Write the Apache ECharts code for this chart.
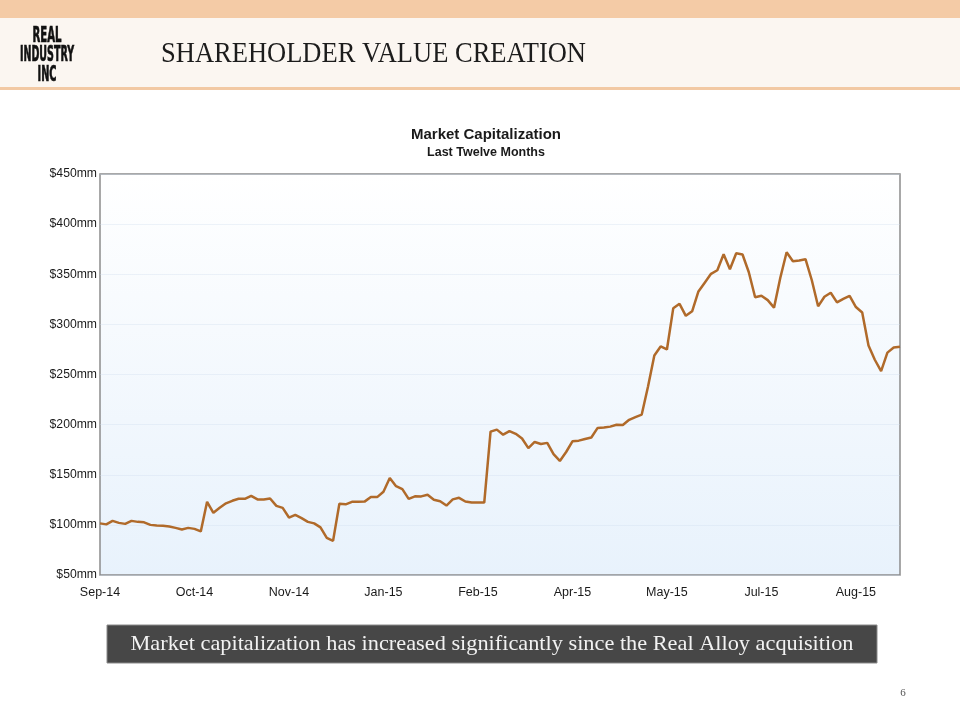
<!DOCTYPE html>
<html><head><meta charset="utf-8">
<script src="https://cdn.jsdelivr.net/npm/echarts/dist/echarts.min.js"></script>
<style>html,body{margin:0;padding:0;background:#fff}#c{width:960px;height:720px}</style>
</head><body><div id="c"></div>
<script>
const tickLabels = ['Sep-14','Oct-14','Nov-14','Jan-15','Feb-15','Apr-15','May-15','Jul-15','Aug-15'];
const labelEvery = 15;
const yMin = 50, yMax = 450, yStep = 50;
const marketCap = [
  101.5, 100.5, 104, 102, 101, 104, 103, 102.5, 100, 99.3,
  99.1, 98.4, 97, 95.4, 97, 96, 93.5, 123, 112, 117,
  121.5, 124, 126, 126, 129, 125.4, 125.3, 126.3, 118.9, 116.9,
  107.3, 110, 106.7, 103, 101.5, 97.5, 87, 84, 121, 120.5,
  123, 123, 123.2, 127.7, 127.7, 133, 146.7, 138.6, 135.6, 126,
  128.5, 128.4, 130, 125, 123.6, 119.3, 125.4, 127, 123.3, 122.3,
  122.3, 122.3, 193, 195, 190, 193.6, 190.8, 186.2, 176.5, 182.7,
  180.7, 181.8, 170.5, 163.8, 172.7, 183.4, 184, 185.7, 187.2, 196.7,
  197.1, 198, 199.8, 199.6, 204.8, 207.5, 210, 238, 269, 278,
  275, 316, 320.5, 308.5, 313, 332.8, 341.6, 350.4, 354, 370,
  355, 371, 369.7, 352, 327, 328.5, 324.2, 316.7, 346.5, 372,
  363, 363.7, 365, 344, 318, 327.6, 331.5, 322, 325.5, 328.5,
  317.3, 311.8, 279, 264.7, 253.3, 271.8, 276.9, 277.7
];
const categories = marketCap.map((_, i) => i);

const mctx = document.createElement('canvas').getContext('2d');
function fitScale(text, font, target) { mctx.font = font; return target / mctx.measureText(text).width; }

const logoFont = 'bold 21px "Liberation Sans Narrow", "DejaVu Sans Condensed", sans-serif';
const titleFont = '29px "Liberation Serif", "DejaVu Serif", serif';
const bannerText = 'Market capitalization has increased significantly since the Real Alloy acquisition';
const bannerFont = '21px "Liberation Serif", "DejaVu Serif", serif';

function logoLine(t, y, w) {
  return { type: 'text', x: 47, y: y, scaleX: fitScale(t, logoFont, w),
    style: { text: t, x: 0, y: 0, font: logoFont, fill: '#111', stroke: '#111', lineWidth: 0.7,
      align: 'center', verticalAlign: 'middle' } };
}

const chart = echarts.init(document.getElementById('c'), null, { renderer: 'canvas' });
chart.setOption({
  backgroundColor: '#ffffff',
  animation: false,
  title: {
    text: 'Market Capitalization', subtext: 'Last Twelve Months',
    left: 481, top: 122, textAlign: 'center', itemGap: 4,
    textStyle: { fontFamily: 'Liberation Sans, Arial, sans-serif', fontSize: 15, fontWeight: 'bold', color: '#1a1a1a' },
    subtextStyle: { fontFamily: 'Liberation Sans, Arial, sans-serif', fontSize: 12.5, fontWeight: 'bold', color: '#1a1a1a' }
  },
  graphic: [
    { type: 'rect', shape: { x: 0, y: 0, width: 960, height: 18 }, style: { fill: '#f4cba6' }, z: 0 },
    { type: 'rect', shape: { x: 0, y: 18, width: 960, height: 69 }, style: { fill: '#fbf6f1' }, z: 0 },
    { type: 'rect', shape: { x: 0, y: 87, width: 960, height: 3 }, style: { fill: '#f2c9a4' }, z: 0 },
    logoLine('REAL', 37, 29),
    logoLine('INDUSTRY', 56, 54),
    logoLine('INC', 76, 19),
    { type: 'text', x: 161, y: 54, scaleX: fitScale('SHAREHOLDER VALUE CREATION', titleFont, 425),
      style: { text: 'SHAREHOLDER VALUE CREATION', x: 0, y: 0, font: titleFont, fill: '#1c1c1c', align: 'left', verticalAlign: 'middle' } },
    { type: 'rect', shape: { x: 107, y: 625, width: 770, height: 38 }, style: { fill: '#474747', stroke: '#8a8a8a', lineWidth: 1 } },
    { type: 'text', x: 492, y: 644, scaleX: fitScale(bannerText, bannerFont, 723),
      style: { text: bannerText, x: 0, y: 0, font: bannerFont, fill: '#f2f2f2', align: 'center', verticalAlign: 'middle' } },
    { type: 'text', x: 903, y: 693,
      style: { text: '6', x: 0, y: 0, font: '11px "Liberation Serif", serif', fill: '#555', align: 'center', verticalAlign: 'middle' } }
  ],
  grid: {
    left: 100, right: 60, top: 174, bottom: 145, show: true,
    borderColor: '#8c8c8c', borderWidth: 1.5,
    backgroundColor: new echarts.graphic.LinearGradient(0, 0, 0, 1, [
      { offset: 0, color: '#ffffff' }, { offset: 1, color: '#e8f2fc' }
    ])
  },
  xAxis: {
    type: 'category', data: categories, boundaryGap: false,
    axisLine: { show: false }, axisTick: { show: false },
    axisLabel: {
      interval: labelEvery - 1, margin: 11,
      fontFamily: 'Liberation Sans, Arial, sans-serif', fontSize: 12.5, color: '#1a1a1a',
      formatter: (v, idx) => tickLabels[idx / labelEvery] || ''
    },
    splitLine: { show: false }
  },
  yAxis: {
    type: 'value', min: yMin, max: yMax, interval: yStep,
    axisLine: { show: false }, axisTick: { show: false },
    axisLabel: { margin: 3, fontFamily: 'Liberation Sans, Arial, sans-serif', fontSize: 12.2, color: '#1a1a1a',
      formatter: v => '$' + v + 'mm' },
    splitLine: { show: true, lineStyle: { color: 'rgba(205,220,238,0.35)', width: 1 } }
  },
  series: [{
    type: 'line', data: marketCap, symbol: 'none', smooth: false,
    lineStyle: { color: '#b06a2a', width: 2.5 }
  }]
});
</script></body></html>
